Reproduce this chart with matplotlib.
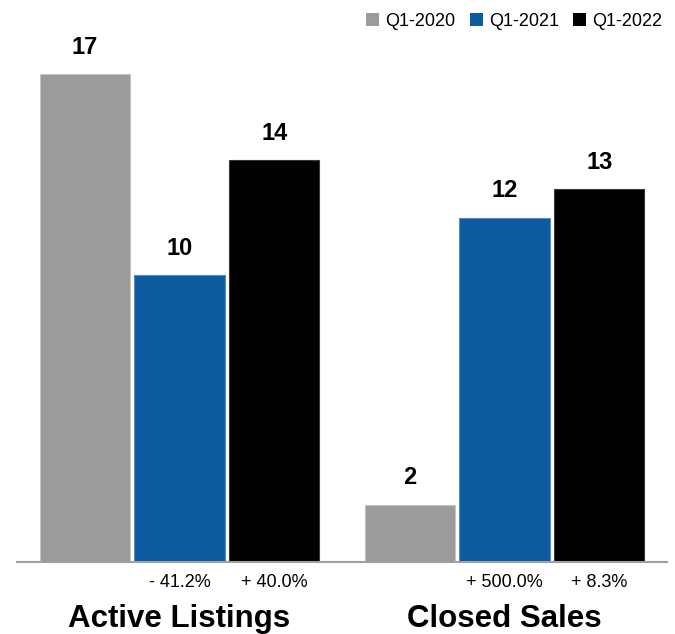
import matplotlib.pyplot as plt
import numpy as np
from matplotlib.patches import Patch

plt.rcParams['font.family'] = ['Liberation Sans', 'DejaVu Sans']

categories = ['Active Listings', 'Closed Sales']
series = ['Q1-2020', 'Q1-2021', 'Q1-2022']
q1_2020 = [17, 2]
q1_2021 = [10, 12]
q1_2022 = [14, 13]
chg_2021 = ['- 41.2%', '+ 500.0%']
chg_2022 = ['+ 40.0%', '+ 8.3%']

colors = ['#9b9b9b', '#0e5aa1', '#000000']
edges = ['#c4c4c4', '#5a8cc4', '#3a3a3a']

fig = plt.figure(figsize=(6.75, 6.34), dpi=100)
ax = fig.add_axes([17 / 675, 72 / 634, 650 / 675, 531 / 634])

x = np.arange(len(categories))
w = 0.277
step = 0.292
vals = [q1_2020, q1_2021, q1_2022]
for i, v in enumerate(vals):
    xs = x + (i - 1) * step
    ax.bar(xs, v, width=w, color=colors[i], edgecolor=edges[i], linewidth=0.8)
    for xx, vv in zip(xs, v):
        ax.annotate(str(vv), (xx, vv), xytext=(0, 11), textcoords='offset points',
                    ha='center', va='bottom', fontsize=17, fontweight='bold')

# percent changes under the bars
for xx, t in zip(x, chg_2021):
    ax.annotate(t, (xx, 0), xytext=(0, -15), textcoords='offset points',
                ha='center', va='center', fontsize=13)
for xx, t in zip(x + step, chg_2022):
    ax.annotate(t, (xx, 0), xytext=(0, -15), textcoords='offset points',
                ha='center', va='center', fontsize=13)

ax.set_xlim(-0.5, 1.5)
ax.set_ylim(0, 18.5)
ax.set_xticks(x)
ax.set_xticklabels(categories, fontsize=22.5, fontweight='bold')
ax.tick_params(axis='x', length=0, pad=30)
ax.set_yticks([])
for s in ['top', 'right', 'left']:
    ax.spines[s].set_visible(False)
ax.spines['bottom'].set_color('#a0a0a0')
ax.spines['bottom'].set_linewidth(1.5)

handles = [Patch(facecolor=c, edgecolor='none') for c in colors]
fig.legend(handles, series, loc='upper right', bbox_to_anchor=(1.0, 1.0), ncol=3,
           frameon=False, fontsize=13, handlelength=0.7, handleheight=0.7,
           handletextpad=0.35, columnspacing=0.8, borderaxespad=0.3)

fig.savefig('out.png', dpi=100)
